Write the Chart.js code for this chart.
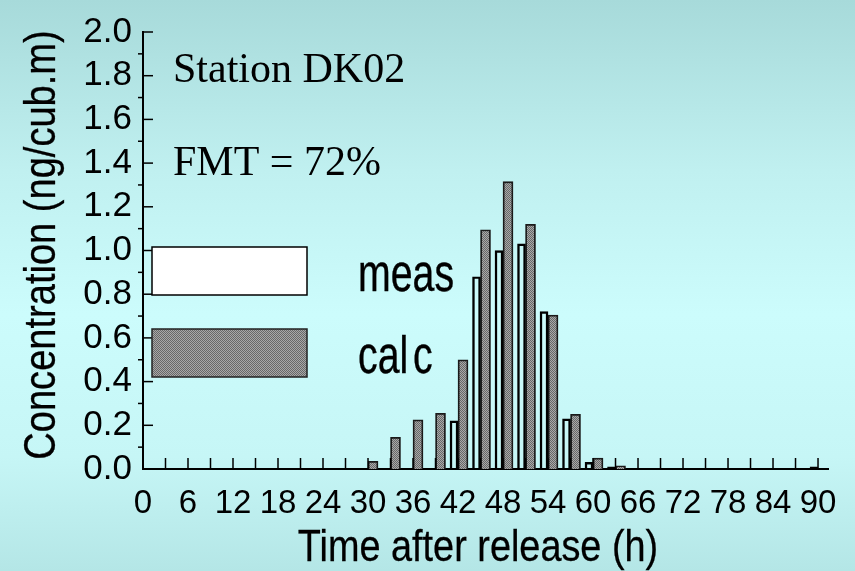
<!DOCTYPE html>
<html>
<head>
<meta charset="utf-8">
<script src="https://cdn.jsdelivr.net/npm/chart.js@4.4.1/dist/chart.umd.min.js"></script>
<style>
    body { margin: 0; }
    #contenedor {
        width: 855px;
        height: 571px;
        background: linear-gradient(to bottom, #a7dada 0%, #c0f0f0 30%, #ccfcfc 55%, #c6f6f6 80%, #b4e6e6 100%);
    }
</style>
</head>
<body>
<div id="contenedor"><canvas id="grafico"></canvas></div>
<script>
// datos (una barra cada 3 horas)
const horas = [0, 3, 6, 9, 12, 15, 18, 21, 24, 27, 30, 33, 36, 39, 42, 45, 48, 51, 54, 57, 60, 63, 66, 69, 72, 75, 78, 81, 84, 87, 90];
const meas  = [0, 0, 0, 0, 0, 0, 0, 0, 0, 0, 0, 0, 0, 0, 0.22, 0.88, 1.00, 1.03, 0.72, 0.23, 0.03, 0.01, 0, 0, 0, 0, 0, 0, 0, 0, 0.01];
const calc  = [0, 0, 0, 0, 0, 0, 0, 0, 0, 0, 0.035, 0.145, 0.225, 0.255, 0.50, 1.095, 1.315, 1.12, 0.705, 0.25, 0.05, 0.015, 0, 0, 0, 0, 0, 0, 0, 0, 0];
const etiquetasX = [0, 6, 12, 18, 24, 30, 36, 42, 48, 54, 60, 66, 72, 78, 84, 90];
const etiquetasY = [0.0, 0.2, 0.4, 0.6, 0.8, 1.0, 1.2, 1.4, 1.6, 1.8, 2.0];

const canvas = document.getElementById('grafico');
const ctx = canvas.getContext('2d');

// trama gris punteada para las barras calculadas
function crearTrama() {
    const c = document.createElement('canvas');
    c.width = 2; c.height = 2;
    const g = c.getContext('2d');
    g.fillStyle = '#a8a8a8';
    g.fillRect(0, 0, 2, 2);
    g.fillStyle = '#686868';
    g.fillRect(0, 0, 1, 1);
    g.fillRect(1, 1, 1, 1);
    return ctx.createPattern(c, 'repeat');
}
const trama = crearTrama();

// texto comprimido en horizontal
function texto(c, str, x, y, font, sx, align, rot, grosor) {
    c.save();
    c.translate(x, y);
    if (rot) c.rotate(rot);
    c.scale(sx, 1);
    c.font = font;
    c.fillStyle = '#000';
    c.strokeStyle = '#000';
    c.textAlign = align;
    c.textBaseline = 'alphabetic';
    c.fillText(str, 0, 0);
    if (grosor) {
        c.lineWidth = grosor;
        c.strokeText(str, 0, 0);
    }
    c.restore();
}

const decorado = {
    id: 'decorado',
    afterDatasetsDraw(chart) {
        const c = chart.ctx;
        const sx = chart.scales.x, sy = chart.scales.y;
        const area = chart.chartArea;
        c.save();
        c.strokeStyle = '#000';
        c.lineWidth = 1.5;
        // marcas del eje x hacia arriba
        sx.ticks.forEach(t => {
            const px = sx.getPixelForValue(t.value);
            c.beginPath();
            c.moveTo(px, area.bottom);
            c.lineTo(px, area.bottom - 11);
            c.stroke();
        });
        // marcas del eje y: mayores adentro, menores afuera
        sy.ticks.forEach(t => {
            const py = sy.getPixelForValue(t.value);
            const mayor = Math.round(t.value * 10) % 2 === 0;
            c.beginPath();
            if (mayor) { c.moveTo(area.left, py); c.lineTo(area.left + 10, py); }
            else { c.moveTo(area.left - 5, py); c.lineTo(area.left, py); }
            c.stroke();
        });

        // leyenda
        c.lineWidth = 1.5;
        c.fillStyle = '#ffffff';
        c.fillRect(152, 247, 155, 48);
        c.strokeRect(152, 247, 155, 48);
        c.fillStyle = trama;
        c.fillRect(152, 329, 155, 48);
        c.strokeStyle = '#222';
        c.strokeRect(152, 329, 155, 48);
        c.restore();

        texto(c, 'meas', 358, 291, '51px "Liberation Sans"', 0.77, 'left', 0, 0.4);
        texto(c, 'cal', 358, 373, '51px "Liberation Sans"', 0.77, 'left', 0, 0.4);
        texto(c, 'c', 413, 373, '51px "Liberation Sans"', 0.77, 'left', 0, 0.4);

        texto(c, 'Station DK02', 173, 82, '42px "Liberation Serif"', 1, 'left');
        texto(c, 'FMT = 72%', 173, 175, '42px "Liberation Serif"', 1, 'left');

        // titulos de los ejes
        texto(c, 'Time after release (h)', 478, 561, '44px "Liberation Sans"', 0.86, 'center', 0, 0.3);
        texto(c, 'Concentration (ng/cub.m)', 55, 245, '44px "Liberation Sans"', 0.865, 'center', -Math.PI / 2, 0.3);
    }
};

new Chart(ctx, {
    type: 'bar',
    data: {
        datasets: [
            {
                label: 'meas',
                data: horas.map((h, i) => ({ x: h, y: meas[i] })),
                backgroundColor: 'rgba(255,255,255,0)',
                borderColor: '#000',
                borderWidth: 1.8,
                barThickness: 8
            },
            {
                label: 'calc',
                data: horas.map((h, i) => ({ x: h, y: calc[i] })),
                backgroundColor: trama,
                borderColor: '#1a1a1a',
                borderWidth: 1.8,
                barThickness: 10
            }
        ]
    },
    options: {
        responsive: true,
        maintainAspectRatio: false,
        animation: false,
        layout: { padding: { top: 20, right: 27, left: 0, bottom: 0 } },
        plugins: {
            legend: { display: false },
            tooltip: { enabled: false }
        },
        scales: {
            x: {
                type: 'linear',
                min: 0,
                max: 91.33,
                offset: false,
                grid: { display: false, drawTicks: false, offset: false },
                border: { display: true, color: '#000', width: 2 },
                ticks: {
                    stepSize: 3,
                    autoSkip: false,
                    maxRotation: 0,
                    includeBounds: false,
                    padding: 15,
                    color: '#000',
                    font: { family: 'Liberation Sans', size: 33 },
                    callback: v => etiquetasX.includes(v) ? String(v) : ''
                },
                afterFit: s => { s.height = 102; }
            },
            y: {
                min: 0,
                max: 2,
                grid: { display: false, drawTicks: false },
                border: { display: true, color: '#000', width: 2 },
                ticks: {
                    stepSize: 0.1,
                    autoSkip: false,
                    padding: 11,
                    color: '#000',
                    font: { family: 'Liberation Sans', size: 35 },
                    callback: v => {
                        const e = etiquetasY.find(t => Math.abs(t - v) < 1e-6);
                        return e !== undefined ? e.toFixed(1) : '';
                    }
                },
                afterFit: s => { s.width = 143; }
            }
        }
    },
    plugins: [decorado]
});
</script>
</body>
</html>
